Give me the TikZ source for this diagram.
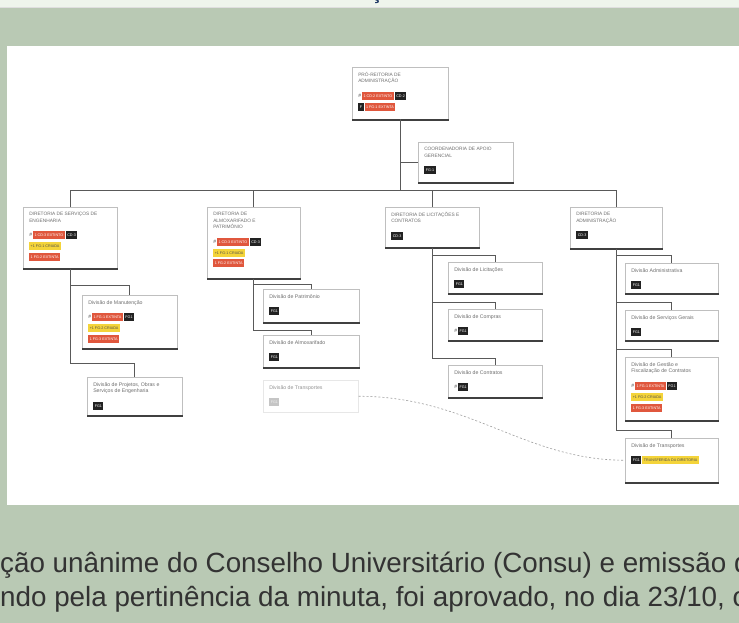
\documentclass[tikz,border=0pt]{standalone}
\usepackage{fontspec}
\setmainfont{Liberation Sans}
\usetikzlibrary{calc,positioning}

\definecolor{pagegreen}{HTML}{B9C9B4}
\definecolor{stripgreen}{HTML}{EEF5EC}
\definecolor{headnavy}{HTML}{1F3A66}
\definecolor{bodytext}{HTML}{333333}
\definecolor{titlegray}{HTML}{6E6E6E}
\definecolor{tagred}{HTML}{E0573D}
\definecolor{tagyellow}{HTML}{F4D43A}
\definecolor{tagblack}{HTML}{222222}

% card contents
\newcommand{\cardbody}[3]{\begin{minipage}[t][\dimexpr#2-10pt][t]{\dimexpr#1-12pt}\raggedright#3\end{minipage}}
\newcommand{\cardtitle}[1]{{\fontsize{4.8}{6.4}\selectfont\color{titlegray}#1\par}}
\newcommand{\divtitle}[1]{{\fontsize{5.2}{6.8}\selectfont\color{titlegray}#1\par}}
\newcommand{\tagrows}[1]{\vspace{4pt}{\fontsize{3.7}{10.8}\selectfont#1\par}}
\newcommand{\redtag}[1]{{\setlength{\fboxsep}{1.5pt}\colorbox{tagred}{\rule[-1pt]{0pt}{5pt}\color{white}#1}}}
\newcommand{\blacktag}[1]{{\setlength{\fboxsep}{1.5pt}\colorbox{tagblack}{\rule[-1pt]{0pt}{5pt}\color{white}#1}}}
\newcommand{\yellowtag}[1]{{\setlength{\fboxsep}{1.5pt}\colorbox{tagyellow}{\rule[-1pt]{0pt}{5pt}\color{black!70}#1}}}
\newcommand{\graytag}[1]{{\setlength{\fboxsep}{1.5pt}\colorbox{gray!60}{\rule[-1pt]{0pt}{5pt}\color{white}#1}}}
\newcommand{\seticon}{{\color{black!70}\fontsize{5}{5}\selectfont\#}}

\begin{document}
\begin{tikzpicture}[x=1pt,y=-1pt,
	card/.style={draw=gray!50, fill=white, line width=0.5pt, anchor=north west,
		inner xsep=6pt, inner ysep=5pt},
	ghostcard/.style={card, draw=gray!25},
	link/.style={draw=black!65, line width=0.7pt},
	moved/.style={draw=gray!75, line width=0.6pt, dash pattern=on 2pt off 2pt},
	cardedge/.style={line width=1.6pt, black!75}]
	
	\useasboundingbox (0,0) rectangle (739,623);
	
	% page background
	\fill[stripgreen] (0,0) rectangle (739,7);
	\fill[pagegreen] (0,7) rectangle (739,623);
	\draw[gray!25, line width=0.6pt] (0,7) -- (739,7);
	\fill[white] (7,46) rectangle (739,505);
	\node[anchor=base, inner sep=0, text=headnavy, font=\bfseries\fontsize{20}{20}\selectfont] (head) at (377,0) {ç};
	
	% pro-reitoria and coordenadoria
	\node[card] (pra) at (352,67) {\cardbody{96pt}{52pt}{\cardtitle{PRÓ-REITORIA DE\\ADMINISTRAÇÃO}\tagrows{\seticon\ \redtag{1 CD-2 EXTINTO} \blacktag{CD-2}\\\blacktag{F} \redtag{1 FG-1 EXTINTA}}}};
	\node[card] (cap) at (418,142) {\cardbody{95pt}{40pt}{\cardtitle{COORDENADORIA DE APOIO\\GERENCIAL}\tagrows{\blacktag{FG-1}}}};
	
	% diretorias
	\node[card] (dse) at (23,207) {\cardbody{94pt}{61pt}{\cardtitle{DIRETORIA DE SERVIÇOS DE\\ENGENHARIA}\tagrows{\seticon\ \redtag{1 CD-3 EXTINTO} \blacktag{CD-3}\\\yellowtag{+1 FG-1 CRIADA}\\\redtag{1 FG-2 EXTINTA}}}};
	\node[card] (dap) at (207,207) {\cardbody{93pt}{71pt}{\cardtitle{DIRETORIA DE\\ALMOXARIFADO E\\PATRIMÔNIO}\tagrows{\seticon\ \redtag{1 CD-3 EXTINTO} \blacktag{CD-3}\\\yellowtag{+1 FG-1 CRIADA}\\\redtag{1 FG-2 EXTINTA}}}};
	\node[card] (dlc) at (385,207) {\cardbody{94pt}{40pt}{\cardtitle{DIRETORIA DE LICITAÇÕES E\\CONTRATOS}\tagrows{\blacktag{CD-3}}}};
	\node[card] (dad) at (570,207) {\cardbody{92pt}{41pt}{\cardtitle{DIRETORIA DE\\ADMINISTRAÇÃO}\tagrows{\blacktag{CD-3}}}};
	
	% divisoes
	\node[card] (dvm) at (82,295) {\cardbody{95pt}{53pt}{\divtitle{Divisão de Manutenção}\tagrows{\seticon\ \redtag{1 FG-1 EXTINTA} \blacktag{FG1}\\\yellowtag{+1 FG-2 CRIADA}\\\redtag{1 FG-3 EXTINTA}}}};
	\node[card] (dvp) at (87,377) {\cardbody{95pt}{38pt}{\divtitle{Divisão de Projetos, Obras e\\Serviços de Engenharia}\tagrows{\blacktag{FG1}}}};
	\node[card] (dpt) at (263,289) {\cardbody{96pt}{33pt}{\divtitle{Divisão de Patrimônio}\tagrows{\blacktag{FG1}}}};
	\node[card] (dal) at (263,335) {\cardbody{96pt}{32pt}{\divtitle{Divisão de Almoxarifado}\tagrows{\blacktag{FG1}}}};
	\node[ghostcard, opacity=0.75] (dtg) at (263,380) {\cardbody{95pt}{32pt}{\divtitle{Divisão de Transportes}\tagrows{\graytag{FG1}}}};
	\node[card] (dlt) at (448,262) {\cardbody{94pt}{31pt}{\divtitle{Divisão de Licitações}\tagrows{\blacktag{FG1}}}};
	\node[card] (dcp) at (448,309) {\cardbody{94pt}{31pt}{\divtitle{Divisão de Compras}\tagrows{\seticon\ \blacktag{FG1}}}};
	\node[card] (dct) at (448,365) {\cardbody{94pt}{32pt}{\divtitle{Divisão de Contratos}\tagrows{\seticon\ \blacktag{FG1}}}};
	\node[card] (dva) at (625,263) {\cardbody{93pt}{30pt}{\divtitle{Divisão Administrativa}\tagrows{\blacktag{FG1}}}};
	\node[card] (dsg) at (625,310) {\cardbody{93pt}{30pt}{\divtitle{Divisão de Serviços Gerais}\tagrows{\blacktag{FG1}}}};
	\node[card] (dgf) at (625,357) {\cardbody{93pt}{63pt}{\divtitle{Divisão de Gestão e\\Fiscalização de Contratos}\tagrows{\seticon\ \redtag{1 FG-1 EXTINTA} \blacktag{FG1}\\\yellowtag{+1 FG-2 CRIADA}\\\redtag{1 FG-3 EXTINTA}}}};
	\node[card] (dtr) at (625,438) {\cardbody{93pt}{44pt}{\divtitle{Divisão de Transportes}\tagrows{\blacktag{FG1} \yellowtag{TRANSFERIDA DA DIRETORIA}}}};
	
	% dark lower edge of the cards
	\foreach \n in {pra,cap,dse,dap,dlc,dad,dvm,dvp,dpt,dal,dlt,dcp,dct,dva,dsg,dgf,dtr}
		\draw[cardedge] ([yshift=-0.6pt]\n.south west) -- ([yshift=-0.6pt]\n.south east);
	
	% main bus
	\coordinate (bus) at (0,190);
	\draw[link] (pra.south) -- (pra.south |- bus);
	\draw[link] (pra.south |- cap.west) -- (cap.west);
	\draw[link] (dse.north) |- (bus -| dad.north) -- (dad.north);
	\draw[link] (dap.north) -- (dap.north |- bus);
	\draw[link] (dlc.north) -- (dlc.north |- bus);
	
	% branches of each diretoria
	\draw[link] (dse.south) |- ([yshift=10pt]dvm.north) -- (dvm.north);
	\draw[link] (dse.south) |- ([yshift=14pt]dvp.north) -- (dvp.north);
	\draw[link] (dap.south) |- ([yshift=5pt]dpt.north) -- (dpt.north);
	\draw[link] (dap.south) |- ([yshift=5pt]dal.north) -- (dal.north);
	\foreach \n in {dlt,dcp,dct}
		\draw[link] (dlc.south) |- ([yshift=7pt]\n.north) -- (\n.north);
	\foreach \n in {dva,dsg,dgf,dtr}
		\draw[link] (dad.south) |- ([yshift=8pt]\n.north) -- (\n.north);
	
	% transportes moved to diretoria de administracao
	\draw[moved] (dtg.east) .. controls +(110,0) and +(-100,0) .. (dtr.west);
	
	% text of the page below the figure
	\node[anchor=base west, inner sep=0, text=bodytext, font=\fontsize{27.8}{30}\selectfont] (linea) at (0,572) {ção unânime do Conselho Universitário (Consu) e emissão de parecer};
	\node[anchor=base west, inner sep=0, text=bodytext, font=\fontsize{27.8}{30}\selectfont] (lineb) at (0,606) {ndo pela pertinência da minuta, foi aprovado, no dia 23/10, o};
\end{tikzpicture}
\end{document}
